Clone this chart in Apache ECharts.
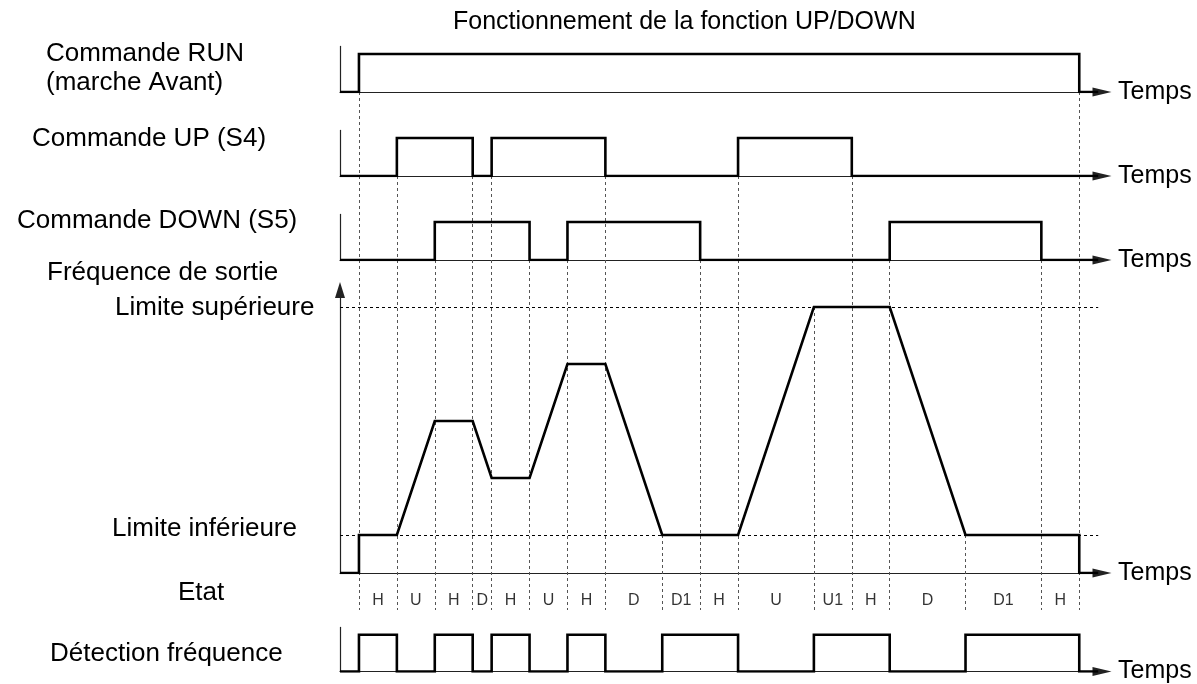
<!DOCTYPE html>
<html>
<head>
<meta charset="utf-8">
<script src="https://cdn.jsdelivr.net/npm/echarts@6/dist/echarts.min.js"></script>
<style>
  html, body { margin: 0; padding: 0; background: #fff; }
  #chart { width: 1197px; height: 684px; }
</style>
</head>
<body>
<div id="chart"></div>
<script>
// Time is counted in half-steps of the diagram clock.
// Edge times at which each logic signal toggles (every signal starts low).
const runEdges = [1, 39];
const upEdges = [3, 7, 8, 14, 21, 27];
const downEdges = [5, 10, 12, 19, 29, 37];
const detectEdges = [1, 3, 5, 7, 8, 10, 12, 14, 17, 21, 25, 29, 33, 39];

// Output frequency profile (levels relative to the axis origin).
const freqTimes  = [0, 1, 1, 3, 5, 7, 8,   10,  12,  14,  17, 21, 25, 29, 33, 39, 39, 40];
const freqLevels = [0, 0, 1, 1, 4, 4, 2.5, 2.5, 5.5, 5.5, 1,  1,  7,  7,  1,  1,  0,  0];
const upperLimit = 7;
const lowerLimit = 1;

// Operating states and the time boundaries between them.
const stateNames = ['H', 'U', 'H', 'D', 'H', 'U', 'H', 'D', 'D1', 'H', 'U', 'U1', 'H', 'D', 'D1', 'H'];
const stateBounds = [1, 3, 5, 7, 8, 10, 12, 14, 17, 19, 21, 25, 27, 29, 33, 37, 39];

// Which trace produced each vertical reference line.
const guideTimes   = [1, 3, 5, 7, 8, 10, 12, 14, 17, 19, 21, 25, 27, 29, 33, 37, 39];
const guideSources = ['run', 'up', 'down', 'up', 'up', 'down', 'down', 'up', 'lower', 'down', 'up', 'upper', 'up', 'down', 'lower', 'down', 'run'];

// ---- layout ----
const FONT = '"Liberation Sans", Arial, Helvetica, sans-serif';
const LEFT = 340, RIGHT = 95;
const T_MAX = 40.2;
const UNIT = 38;            // px per signal level
const ROW_SPAN = 1.2;       // logic rows show a little above the high level
const FREQ_SPAN = 7.45;
const LOW = { run: 92, up: 176, down: 260, freq: 573, detect: 673 };
const STATE_Y = 601, GUIDE_BOTTOM = 610;
const INK = '#000', AXIS = '#222';

function stepPoints(edges, tEnd) {
  const pts = [[0, 0]];
  let v = 0;
  edges.forEach(e => { pts.push([e, v]); v = 1 - v; pts.push([e, v]); });
  pts.push([tEnd, v]);
  return pts;
}

function logicGrid(low) {
  return { left: LEFT, right: RIGHT, top: low - UNIT * ROW_SPAN, height: UNIT * ROW_SPAN };
}

function timeAxis(gridIndex, showLine) {
  return {
    type: 'value', gridIndex, min: 0, max: T_MAX,
    axisLine: showLine ? {
      show: true, symbol: ['none', 'triangle'], symbolSize: [9, 19],
      lineStyle: { color: AXIS, width: 1.2 }
    } : { show: false },
    axisTick: { show: false }, axisLabel: { show: false }, splitLine: { show: false },
    name: showLine ? 'Temps' : '', nameLocation: 'end', nameGap: 16,
    nameTextStyle: { fontSize: 25, color: INK, fontFamily: FONT, verticalAlign: 'middle',
                     padding: [4, 0, 0, 0] }
  };
}

function levelAxis(gridIndex, max, arrow) {
  return {
    type: 'value', gridIndex, min: 0, max,
    axisLine: {
      show: true, onZero: false,
      symbol: arrow ? ['none', 'triangle'] : 'none', symbolSize: [10, 16],
      lineStyle: { color: AXIS, width: 1.2 }
    },
    axisTick: { show: false }, axisLabel: { show: false }, splitLine: { show: false }
  };
}

const signalStyle = { color: INK, width: 2.6, join: 'miter', cap: 'butt' };

function logicSeries(idx, edges) {
  return {
    type: 'line', xAxisIndex: idx, yAxisIndex: idx, data: stepPoints(edges, 40),
    showSymbol: false, symbol: 'none', lineStyle: signalStyle, z: 5, silent: true
  };
}

// Vertical reference lines, from the edge that caused them down to the state row.
function guideTop(src) {
  if (src === 'upper') return LOW.freq - upperLimit * UNIT;
  if (src === 'lower') return LOW.freq - lowerLimit * UNIT;
  return LOW[src];
}
const guideData = guideTimes.map((t, i) => ({ coords: [[t, guideTop(guideSources[i])], [t, GUIDE_BOTTOM]] }));

const stateData = stateNames.map((s, i) => ({
  value: [(stateBounds[i] + stateBounds[i + 1]) / 2, STATE_Y], name: s
}));

const leftLabels = [
  ['Commande RUN', 46, 54],
  ['(marche Avant)', 46, 83],
  ['Commande UP (S4)', 32, 139],
  ['Commande DOWN (S5)', 17, 221],
  ['Fréquence de sortie', 47, 273],
  ['Limite supérieure', 115, 308],
  ['Limite inférieure', 112, 529],
  ['Etat', 178, 593],
  ['Détection fréquence', 50, 654]
];

const graphics = leftLabels.map(([text, x, y]) => ({
  type: 'text', x, y,
  style: { text, fill: INK, font: '26px ' + FONT, align: 'left', verticalAlign: 'middle',
           textAlign: 'left', textVerticalAlign: 'middle' }
}));
graphics.push({
  type: 'text', x: 453, y: 22,
  style: { text: 'Fonctionnement de la fonction UP/DOWN', fill: INK, font: '25px ' + FONT,
           align: 'left', verticalAlign: 'middle', textAlign: 'left', textVerticalAlign: 'middle' }
});

const chart = echarts.init(document.getElementById('chart'), null, { renderer: 'canvas' });
chart.setOption({
  animation: false,
  backgroundColor: '#fff',
  graphic: graphics,
  grid: [
    logicGrid(LOW.run),
    logicGrid(LOW.up),
    logicGrid(LOW.down),
    { left: LEFT, right: RIGHT, top: LOW.freq - UNIT * FREQ_SPAN, height: UNIT * FREQ_SPAN },
    logicGrid(LOW.detect),
    { left: LEFT, right: RIGHT, top: 0, height: 684 }
  ],
  xAxis: [timeAxis(0, true), timeAxis(1, true), timeAxis(2, true), timeAxis(3, true), timeAxis(4, true), timeAxis(5, false)],
  yAxis: [
    levelAxis(0, ROW_SPAN, false),
    levelAxis(1, ROW_SPAN, false),
    levelAxis(2, ROW_SPAN, false),
    levelAxis(3, FREQ_SPAN, true),
    levelAxis(4, ROW_SPAN, false),
    { type: 'value', gridIndex: 5, min: 0, max: 684, inverse: true, show: false,
      axisLine: { show: false }, splitLine: { show: false } }
  ],
  series: [
    logicSeries(0, runEdges),
    logicSeries(1, upEdges),
    logicSeries(2, downEdges),
    {
      type: 'line', xAxisIndex: 3, yAxisIndex: 3,
      data: freqTimes.map((t, i) => [t, freqLevels[i]]),
      showSymbol: false, symbol: 'none', lineStyle: signalStyle, z: 5, silent: true,
      markLine: {
        silent: true, symbol: 'none', label: { show: false },
        lineStyle: { color: INK, width: 1, type: [3, 3] },
        data: [
          [{ coord: [0, upperLimit] }, { coord: [40, upperLimit] }],
          [{ coord: [0, lowerLimit] }, { coord: [40, lowerLimit] }]
        ]
      }
    },
    logicSeries(4, detectEdges),
    {
      type: 'lines', coordinateSystem: 'cartesian2d', xAxisIndex: 5, yAxisIndex: 5,
      data: guideData, silent: true, z: 1,
      lineStyle: { color: '#555', width: 1, type: [3, 3], opacity: 1 }
    },
    {
      type: 'scatter', xAxisIndex: 5, yAxisIndex: 5, data: stateData, symbolSize: 0, silent: true,
      label: { show: true, position: 'inside', formatter: p => p.name,
               fontSize: 16, color: INK, fontFamily: FONT }
    }
  ]
});
</script>
</body>
</html>
